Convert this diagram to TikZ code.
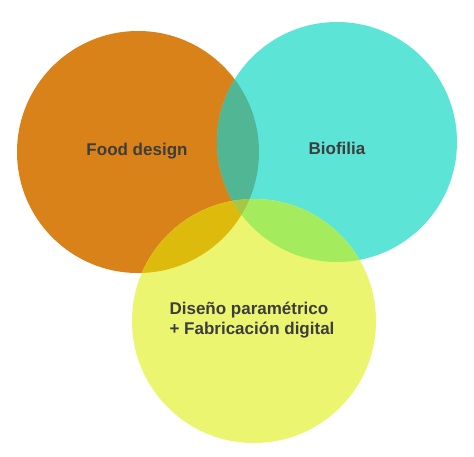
\documentclass[tikz,border=0pt]{standalone}
\usepackage{fontspec}
\setmainfont{Liberation Sans}
\definecolor{cO}{HTML}{D98219}
\definecolor{cC}{HTML}{5CE5D7}
\definecolor{cY}{HTML}{EBF56F}
\definecolor{cOC}{HTML}{50B694}
\definecolor{cOY}{HTML}{DDBB0D}
\definecolor{cCY}{HTML}{A4EC5D}
\definecolor{cOCY}{HTML}{A8C645}
\definecolor{txt}{HTML}{3D3D3D}
\begin{document}
\begin{tikzpicture}[x=1pt,y=-1pt,
  lbl/.style={font=\bfseries\fontsize{17}{20}\selectfont, text=txt, align=left, inner sep=0pt}]
\useasboundingbox[fill=white] (0,0) rectangle (474,456);
\def\circO{(138,152) circle[radius=121]}
\def\circC{(337,142) circle[radius=120]}
\def\circY{(254,321) circle[radius=122]}
\fill[cO] \circO;
\fill[cC] \circC;
\fill[cY] \circY;
\begin{scope}\clip \circO; \fill[cOC] \circC; \end{scope}
\begin{scope}\clip \circO; \fill[cOY] \circY; \end{scope}
\begin{scope}\clip \circC; \fill[cCY] \circY; \end{scope}
\begin{scope}\clip \circO; \clip \circC; \fill[cOCY] \circY; \end{scope}
\node[lbl] (food) at (137,151) {Food design};
\node[lbl] (bio) at (337,148) {Biofilia};
\node[lbl] (dis) at (252,320) {Diseño paramétrico\\+ Fabricación digital};
\end{tikzpicture}
\end{document}
